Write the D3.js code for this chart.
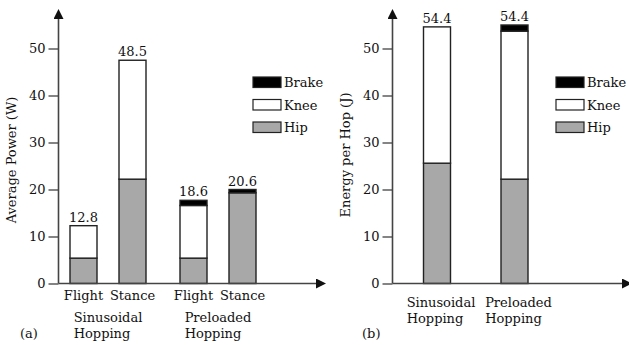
<!DOCTYPE html>
<html>
<head>
<meta charset="utf-8">
<script src="https://cdn.jsdelivr.net/npm/d3@7"></script>
<style>
  body { margin: 0; background: #fff; }
  svg text { font-family: "DejaVu Serif", serif; font-size: 13px; fill: #111; }
</style>
</head>
<body>
<svg id="chart" width="629" height="345"></svg>
<script>
// Panel (a): average power
var groupsA = ['Sinusoidal Hopping', 'Preloaded Hopping'];
var phasesA = ['Flight', 'Stance'];
var hipA   = [5.4, 22.2, 5.4, 19.3];
var kneeA  = [6.9, 25.3, 11.2, 0];
var brakeA = [0, 0, 1.1, 0.7];
var totalLabelsA = ['12.8', '48.5', '18.6', '20.6'];

// Panel (b): energy per hop
var groupsB = ['Sinusoidal Hopping', 'Preloaded Hopping'];
var hipB   = [25.6, 22.2];
var kneeB  = [29.0, 31.5];
var brakeB = [0, 1.3];
var totalLabelsB = ['54.4', '54.4'];

var yTicks = [0, 10, 20, 30, 40, 50];
var legendItems = ['Brake', 'Knee', 'Hip'];
var fills = { Hip: '#a8a8a8', Knee: '#ffffff', Brake: '#000000' };

var svg = d3.select('#chart');
var barW = 27;

// shared arrowhead
svg.append('defs').append('marker')
    .attr('id', 'arrow')
    .attr('viewBox', '0 0 10 10')
    .attr('refX', 0).attr('refY', 5)
    .attr('markerWidth', 10).attr('markerHeight', 10)
    .attr('markerUnits', 'userSpaceOnUse')
    .attr('orient', 'auto')
    .append('path').attr('d', 'M0,0 L10,5 L0,10 Z').attr('fill', '#111');

function drawPanel(opts) {
    var g = svg.append('g');
    var y = d3.scaleLinear().domain([0, 50]).range([283.5, 48.5]);

    // stacked bars
    opts.bars.forEach(function(b, i) {
        var parts = [['Hip', 0, b.hip], ['Knee', b.hip, b.hip + b.knee], ['Brake', b.hip + b.knee, b.hip + b.knee + b.brake]];
        parts.forEach(function(p) {
            if (p[2] - p[1] <= 0) return;
            g.append('rect')
                .attr('x', b.cx - barW / 2)
                .attr('y', y(p[2]))
                .attr('width', barW)
                .attr('height', y(p[1]) - y(p[2]))
                .style('fill', fills[p[0]])
                .style('stroke', '#222')
                .style('stroke-width', 1.4);
        });
        g.append('text')
            .attr('x', b.cx)
            .attr('y', y(b.hip + b.knee + b.brake) - 4)
            .attr('text-anchor', 'middle')
            .text(b.label);
    });

    // axes
    var yAxis = d3.axisLeft(y).tickValues(yTicks).tickSize(10).tickPadding(3);
    var ag = g.append('g').attr('transform', 'translate(' + opts.axisX + ',0)').call(yAxis);
    ag.select('.domain').remove();
    ag.selectAll('line').attr('stroke', '#333').attr('stroke-width', 1.2);
    ag.selectAll('text').style('font-family', '"DejaVu Serif", serif').style('font-size', '13px').attr('fill', '#111');

    g.append('line')
        .attr('x1', opts.axisX).attr('x2', opts.axisX)
        .attr('y1', y(0)).attr('y2', 19)
        .attr('stroke', '#444').attr('stroke-width', 1.6)
        .attr('marker-end', 'url(#arrow)');
    g.append('line')
        .attr('x1', opts.axisX).attr('x2', opts.xEnd - 10)
        .attr('y1', y(0)).attr('y2', y(0))
        .attr('stroke', '#444').attr('stroke-width', 1.6)
        .attr('marker-end', 'url(#arrow)');

    // y title
    g.append('text')
        .attr('transform', 'translate(' + opts.titleX + ',' + opts.titleY + ') rotate(-90)')
        .attr('text-anchor', 'middle')
        .text(opts.title);

    // category labels
    opts.bars.forEach(function(b) {
        if (b.phase) {
            g.append('text').attr('x', b.cx).attr('y', 300).attr('text-anchor', 'middle').text(b.phase);
        }
    });
    opts.groups.forEach(function(gr) {
        var words = gr.name.split(' ');
        var t = g.append('text').attr('y', opts.groupY);
        var first = t.append('tspan').text(words[0]);
        var w = first.node().getComputedTextLength();
        first.attr('x', gr.cx - w / 2);
        t.append('tspan').attr('x', gr.cx - w / 2).attr('dy', 15.5).text(words[1]);
    });

    // panel letter
    g.append('text').attr('x', opts.letterX).attr('y', 338).text(opts.letter);

    // legend
    legendItems.forEach(function(name, i) {
        var ly = 77 + i * 22.5;
        g.append('rect')
            .attr('x', opts.legendX).attr('y', ly)
            .attr('width', 28).attr('height', 10.5)
            .style('fill', fills[name]).style('stroke', '#222').style('stroke-width', 1.2);
        g.append('text').attr('x', opts.legendX + 31).attr('y', ly + 10).text(name);
    });
}

// panel (a) positions
var outerA = d3.scalePoint().domain(groupsA).range([108, 218]);
var innerA = d3.scalePoint().domain(phasesA).range([-24.5, 24.5]);
var barsA = [];
groupsA.forEach(function(gr, gi) {
    phasesA.forEach(function(ph, pi) {
        var k = gi * 2 + pi;
        barsA.push({ cx: outerA(gr) + innerA(ph), phase: ph, hip: hipA[k], knee: kneeA[k], brake: brakeA[k], label: totalLabelsA[k] });
    });
});
drawPanel({
    bars: barsA,
    groups: groupsA.map(function(gr) { return { name: gr, cx: outerA(gr) }; }),
    axisX: 58.5, xEnd: 326, title: 'Average Power (W)', titleX: 16, titleY: 160,
    groupY: 322, letter: '(a)', letterX: 20, legendX: 253
});

// panel (b) positions
var xB = d3.scalePoint().domain(groupsB).range([437, 514.5]);
var barsB = groupsB.map(function(gr, i) {
    return { cx: xB(gr), hip: hipB[i], knee: kneeB[i], brake: brakeB[i], label: totalLabelsB[i] };
});
drawPanel({
    bars: barsB,
    groups: groupsB.map(function(gr) { return { name: gr, cx: xB(gr) + 4 }; }),
    axisX: 392.5, xEnd: 632, title: 'Energy per Hop (J)', titleX: 350, titleY: 155,
    groupY: 307, letter: '(b)', letterX: 362, legendX: 556
});
</script>
</body>
</html>
